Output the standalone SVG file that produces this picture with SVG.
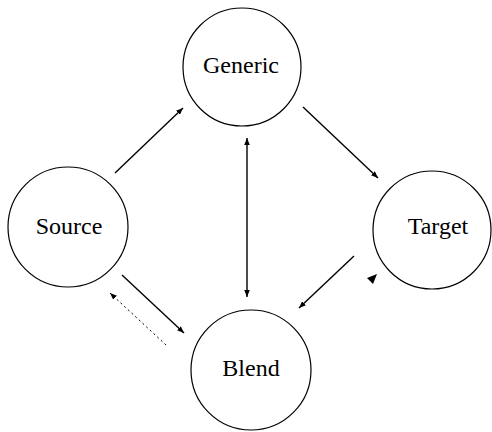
<svg xmlns="http://www.w3.org/2000/svg" width="492" height="432" viewBox="0 0 492 432">
<style>
.node circle{fill:#fff;stroke:#000;stroke-width:1.2}
.node text{font-family:"Liberation Serif","Times New Roman",serif;font-size:24px;fill:#000;text-anchor:middle}
.edge{stroke:#000;stroke-width:1.4;fill:none}
.dot{stroke:#000;stroke-width:1;stroke-dasharray:2 3;fill:none}
</style>
<defs>
<marker id="ah" viewBox="0 0 10 8" refX="10" refY="4" markerWidth="7" markerHeight="5.6" markerUnits="userSpaceOnUse" orient="auto-start-reverse">
<path d="M0,0 L10,4 L0,8 z" fill="#000"/>
</marker>
</defs>
<rect width="492" height="432" fill="#fff"/>
<g id="connectors">
<line class="edge" x1="115" y1="173" x2="183" y2="108" marker-end="url(#ah)"/>
<line class="edge" x1="303" y1="107" x2="378" y2="178" marker-end="url(#ah)"/>
<line class="edge" x1="247" y1="138" x2="247" y2="297" marker-start="url(#ah)" marker-end="url(#ah)"/>
<line class="edge" x1="122" y1="275" x2="184" y2="333" marker-end="url(#ah)"/>
<line class="edge" x1="354" y1="256" x2="299" y2="308" marker-end="url(#ah)"/>
<line class="dot" x1="166" y1="345" x2="110" y2="293" marker-end="url(#ah)"/>
<path d="M377,274 L367,278 L373,284 z" fill="#000"/>
</g>
<g id="generic" class="node"><circle cx="242" cy="67" r="59"/><text x="241" y="73">Generic</text></g>
<g id="source" class="node"><circle cx="68" cy="227" r="60"/><text x="69" y="234">Source</text></g>
<g id="target" class="node"><circle cx="432" cy="230" r="59"/><text x="438" y="234">Target</text></g>
<g id="blend" class="node"><circle cx="251" cy="370" r="60"/><text x="251" y="376">Blend</text></g>
</svg>
